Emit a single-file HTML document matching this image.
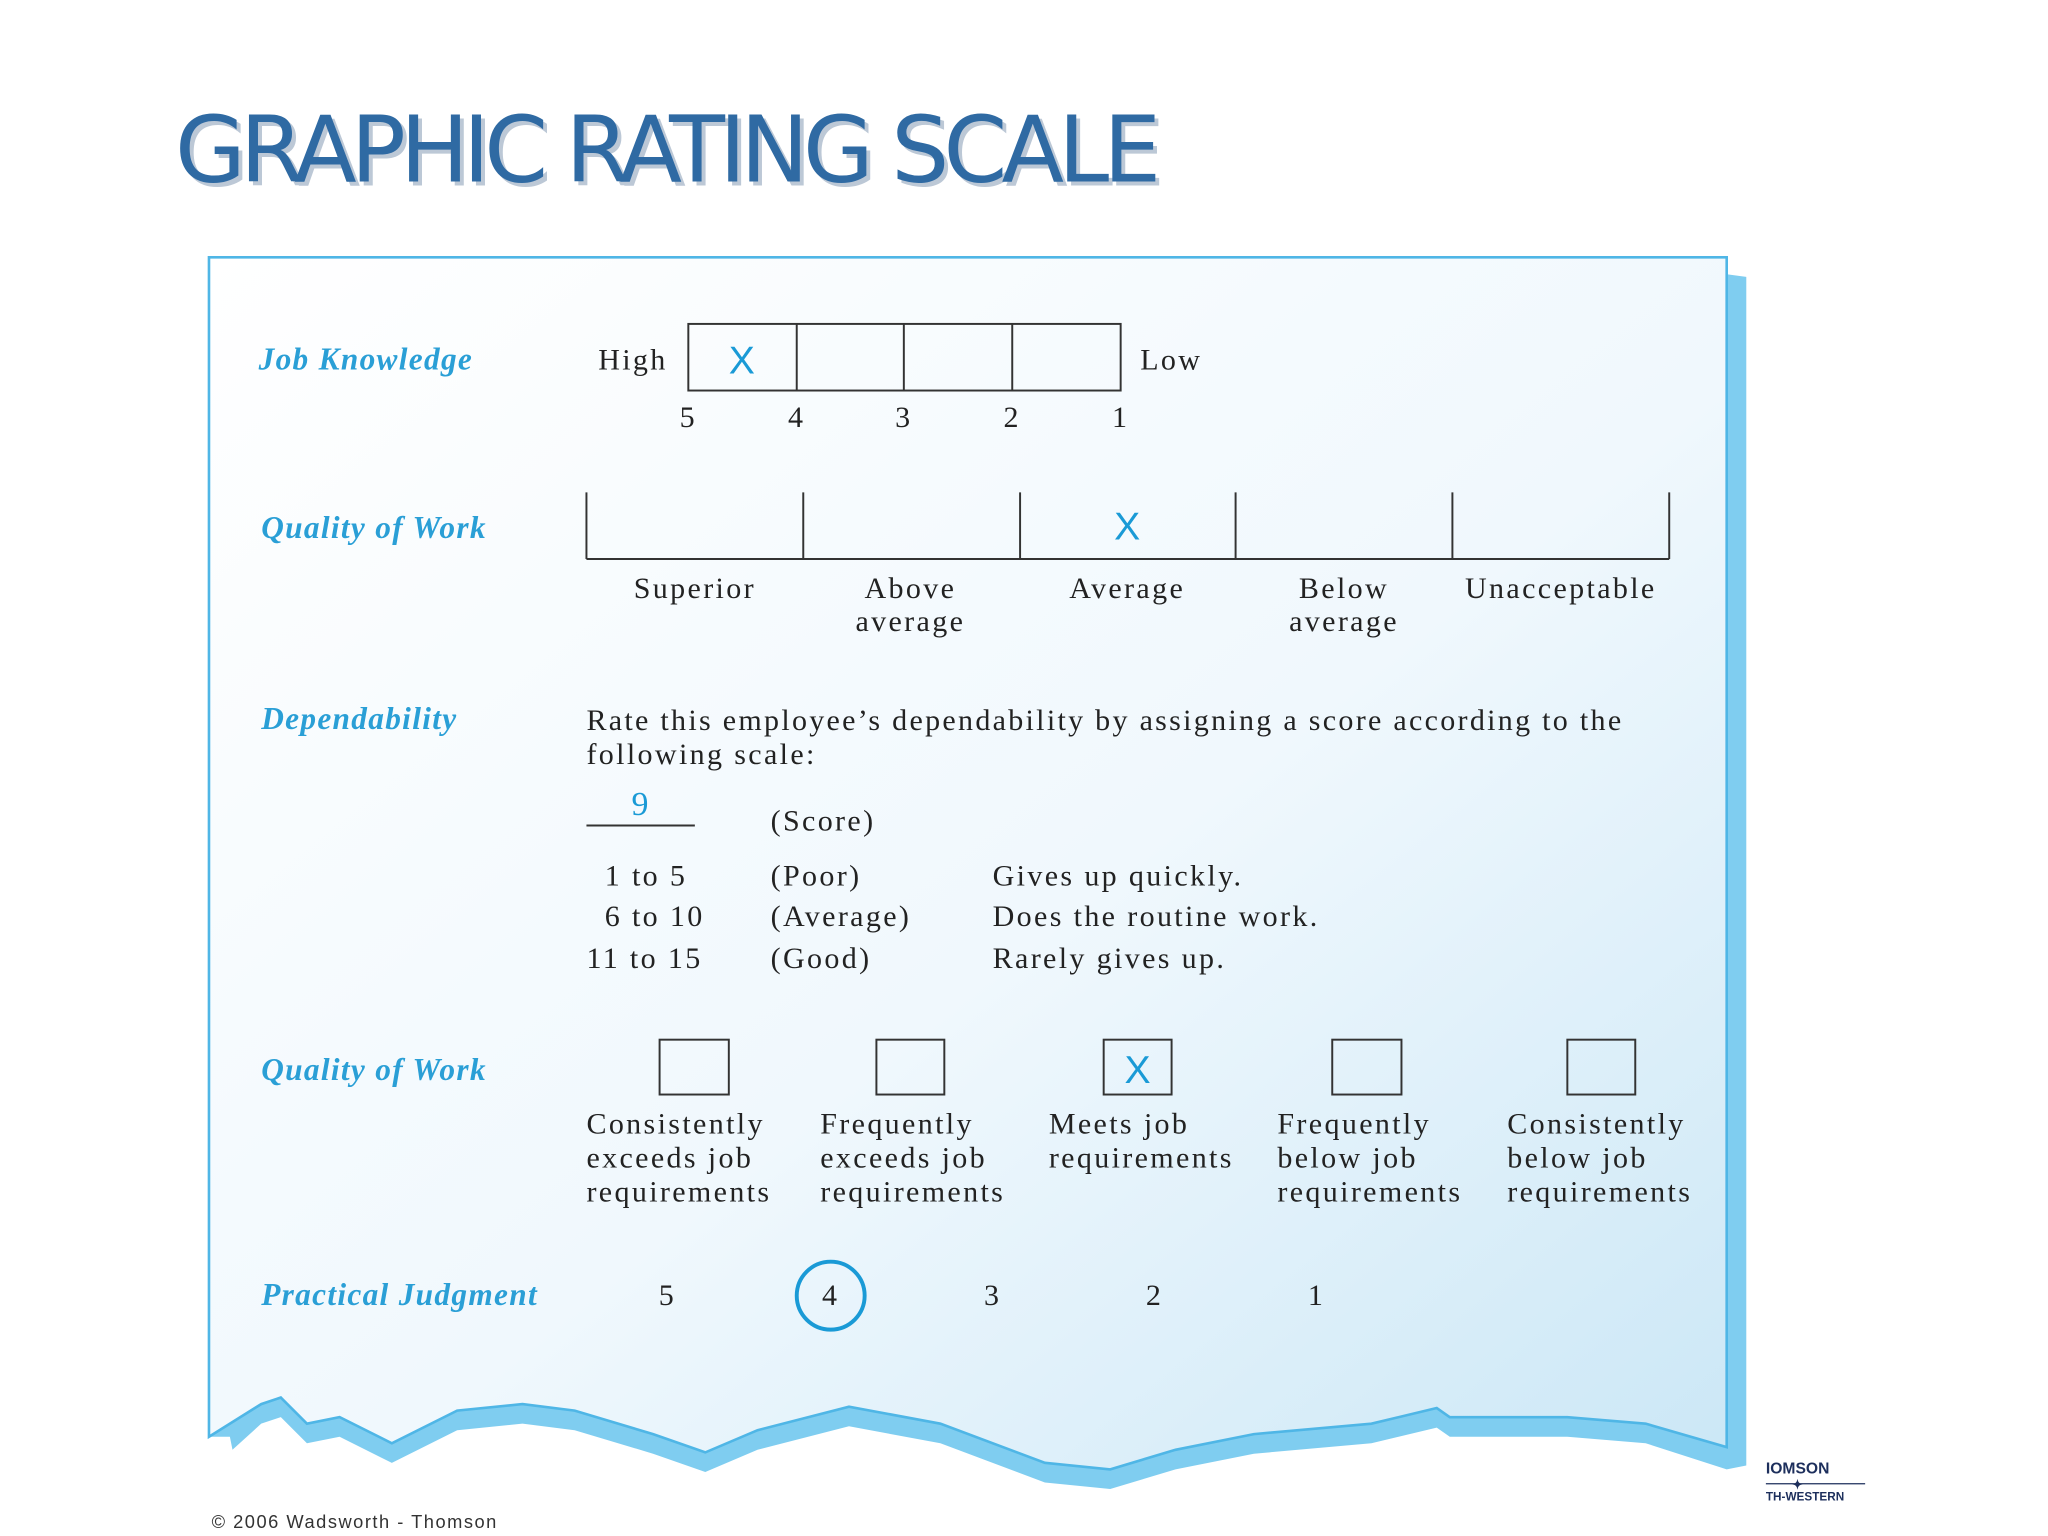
<!DOCTYPE html>
<html><head><meta charset="utf-8"><style>
html,body{margin:0;padding:0;background:#fff;}
svg{display:block}
.lab{font-family:"Liberation Serif",serif;font-style:italic;font-weight:bold;fill:#2a9fd6;font-size:24px;letter-spacing:1px}
.t{font-family:"Liberation Serif",serif;fill:#222;font-size:23px;letter-spacing:1.8px}
.x{font-family:"Liberation Sans",sans-serif;fill:#1a9ad6;font-size:30px}
</style></head><body>
<svg width="2048" height="1536" viewBox="0 0 1568 1176" xmlns="http://www.w3.org/2000/svg">
<defs>
<linearGradient id="g" x1="0" y1="0" x2="1" y2="1">
<stop offset="0" stop-color="#ffffff"/><stop offset="0.55" stop-color="#f0f8fd"/><stop offset="1" stop-color="#cbe7f6"/>
</linearGradient>
</defs>
<text x="137" y="142" font-family="'DejaVu Sans','Liberation Sans',sans-serif" font-size="70" fill="#bcc8d6" textLength="755">GRAPHIC RATING SCALE</text>
<text x="134" y="139" font-family="'DejaVu Sans','Liberation Sans',sans-serif" font-size="70" fill="#2f6aa3" textLength="755">GRAPHIC RATING SCALE</text>

<path fill="#7fcdf0" d="M1322,210 L1337,212 L1337,1122 L1322,1125 L1260,1105 L1200,1100 L1110,1100 L1100,1093 L1050,1105 L960,1113 L900,1125 L850,1140 L800,1135 L720,1105 L650,1092 L580,1110 L540,1127 L500,1113 L440,1095 L400,1090 L350,1095 L300,1120 L260,1100 L235,1105 L215,1085 L200,1090 L178,1110 L176,1100 L160,1100 L200,1075 L215,1070 L235,1090 L260,1085 L300,1105 L350,1080 L400,1075 L440,1080 L500,1098 L540,1112 L580,1095 L650,1077 L720,1090 L800,1120 L850,1125 L900,1110 L960,1098 L1050,1090 L1100,1078 L1110,1085 L1200,1085 L1260,1090 L1322,1108 Z"/>
<path fill="url(#g)" stroke="#4fb6e6" stroke-width="2" d="M160,1100 L160,197 L1322,197 L1322,1108 L1260,1090 L1200,1085 L1110,1085 L1100,1078 L1050,1090 L960,1098 L900,1110 L850,1125 L800,1120 L720,1090 L650,1077 L580,1095 L540,1112 L500,1098 L440,1080 L400,1075 L350,1080 L300,1105 L260,1085 L235,1090 L215,1070 L200,1075 Z"/>

<g>
<text class="lab" x="198" y="283">Job Knowledge</text>
<text class="t" x="458" y="283">High</text>
<rect x="527" y="248" width="331" height="51" fill="none" stroke="#333" stroke-width="1.5"/>
<line x1="610" y1="248" x2="610" y2="299" stroke="#333" stroke-width="1.5"/>
<line x1="692" y1="248" x2="692" y2="299" stroke="#333" stroke-width="1.5"/>
<line x1="775" y1="248" x2="775" y2="299" stroke="#333" stroke-width="1.5"/>
<text class="x" x="568" y="286" text-anchor="middle">X</text>
<text class="t" x="873" y="283">Low</text>
<text class="t" x="527" y="327" text-anchor="middle">5</text>
<text class="t" x="610" y="327" text-anchor="middle">4</text>
<text class="t" x="692" y="327" text-anchor="middle">3</text>
<text class="t" x="775" y="327" text-anchor="middle">2</text>
<text class="t" x="858" y="327" text-anchor="middle">1</text>
</g>

<g stroke="#333" stroke-width="1.5">
<line x1="449" y1="428" x2="1278" y2="428"/>
<line x1="449" y1="377" x2="449" y2="428"/>
<line x1="615" y1="377" x2="615" y2="428"/>
<line x1="781" y1="377" x2="781" y2="428"/>
<line x1="946" y1="377" x2="946" y2="428"/>
<line x1="1112" y1="377" x2="1112" y2="428"/>
<line x1="1278" y1="377" x2="1278" y2="428"/>
</g>
<text class="lab" x="200" y="412">Quality of Work</text>
<text class="x" x="863" y="413" text-anchor="middle">X</text>
<text class="t" x="532" y="458" text-anchor="middle">Superior</text>
<text class="t" x="697" y="458" text-anchor="middle">Above</text>
<text class="t" x="697" y="483" text-anchor="middle">average</text>
<text class="t" x="863" y="458" text-anchor="middle">Average</text>
<text class="t" x="1029" y="458" text-anchor="middle">Below</text>
<text class="t" x="1029" y="483" text-anchor="middle">average</text>
<text class="t" x="1195" y="458" text-anchor="middle">Unacceptable</text>

<g>
<text class="lab" x="200" y="558">Dependability</text>
<text class="t" x="449" y="559" textLength="794" lengthAdjust="spacing">Rate this employee’s dependability by assigning a score according to the</text>
<text class="t" x="449" y="585">following scale:</text>
<text x="490" y="624" text-anchor="middle" style="font-family:'Liberation Serif',serif;font-size:26px;fill:#1a9ad6">9</text>
<line x1="449" y1="632" x2="532" y2="632" stroke="#333" stroke-width="1.5"/>
<text class="t" x="590" y="636">(Score)</text>
<text class="t" x="463" y="678">1 to 5</text>
<text class="t" x="590" y="678">(Poor)</text>
<text class="t" x="760" y="678">Gives up quickly.</text>
<text class="t" x="463" y="709">6 to 10</text>
<text class="t" x="590" y="709">(Average)</text>
<text class="t" x="760" y="709">Does the routine work.</text>
<text class="t" x="449" y="741">11 to 15</text>
<text class="t" x="590" y="741">(Good)</text>
<text class="t" x="760" y="741">Rarely gives up.</text>
</g>

<g>
<text class="lab" x="200" y="827">Quality of Work</text>
<g fill="none" stroke="#333" stroke-width="1.5">
<rect x="505" y="796" width="53" height="42"/>
<rect x="671" y="796" width="52" height="42"/>
<rect x="845" y="796" width="52" height="42"/>
<rect x="1020" y="796" width="53" height="42"/>
<rect x="1200" y="796" width="52" height="42"/>
</g>
<text class="x" x="871" y="829" text-anchor="middle">X</text>
<text class="t" x="449" y="868">Consistently</text><text class="t" x="449" y="894">exceeds job</text><text class="t" x="449" y="920">requirements</text>
<text class="t" x="628" y="868">Frequently</text><text class="t" x="628" y="894">exceeds job</text><text class="t" x="628" y="920">requirements</text>
<text class="t" x="803" y="868">Meets job</text><text class="t" x="803" y="894">requirements</text>
<text class="t" x="978" y="868">Frequently</text><text class="t" x="978" y="894">below job</text><text class="t" x="978" y="920">requirements</text>
<text class="t" x="1154" y="868">Consistently</text><text class="t" x="1154" y="894">below job</text><text class="t" x="1154" y="920">requirements</text>
</g>

<g>
<text class="lab" x="200" y="999">Practical Judgment</text>
<text class="t" x="511" y="999" text-anchor="middle">5</text>
<circle cx="636" cy="992" r="26" fill="none" stroke="#1a9ad6" stroke-width="3"/>
<text class="t" x="636" y="999" text-anchor="middle">4</text>
<text class="t" x="760" y="999" text-anchor="middle">3</text>
<text class="t" x="884" y="999" text-anchor="middle">2</text>
<text class="t" x="1008" y="999" text-anchor="middle">1</text>
</g>

<text x="162" y="1170" font-family="'Liberation Sans',sans-serif" font-size="14" fill="#333" textLength="218">© 2006 Wadsworth - Thomson</text>
<g font-family="'Liberation Sans',sans-serif" font-weight="bold" fill="#1d2f5c">
<text x="1352" y="1128" font-size="12">IOMSON</text>
<line x1="1352" y1="1136" x2="1428" y2="1136" stroke="#1d2f5c" stroke-width="1"/>
<text x="1372" y="1140" font-size="10">✦</text>
<text x="1352" y="1149" font-size="9">TH-WESTERN</text>
</g>
</svg>
</body></html>
